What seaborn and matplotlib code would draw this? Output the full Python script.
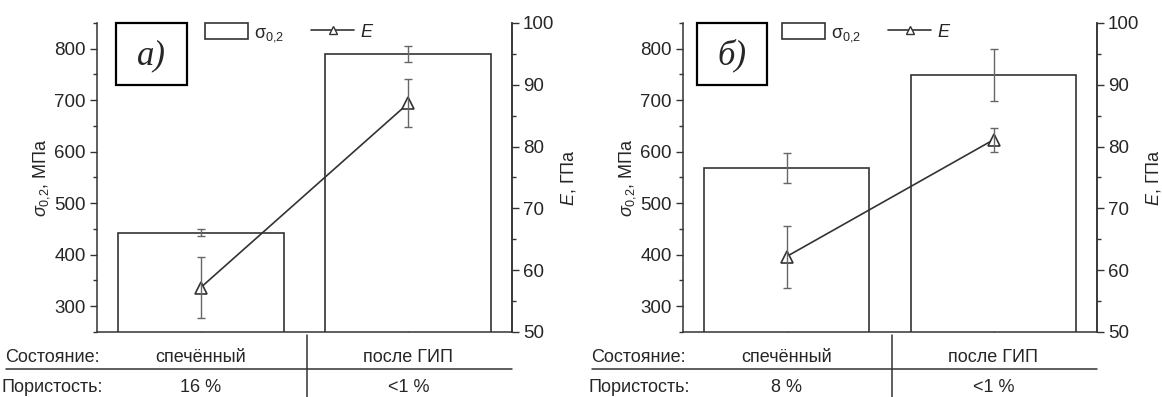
import numpy as np
import pandas as pd
import seaborn as sns
import matplotlib.pyplot as plt
from matplotlib.patches import Rectangle, Patch
from matplotlib.lines import Line2D
from matplotlib.ticker import MultipleLocator

sns.set_style('ticks')
plt.rcParams['font.family'] = ['Liberation Sans', 'DejaVu Sans']
plt.rcParams['mathtext.fontset'] = 'custom'
plt.rcParams['mathtext.rm'] = 'Liberation Sans'
plt.rcParams['mathtext.it'] = 'Liberation Sans:italic'

# данные с рисунка
states = ['спечённый', 'после ГИП']
porosity_a = ['16 %', '<1 %']
porosity_b = ['8 %', '<1 %']

sigma_a = [443, 790]
sigma_a_err = [7, 16]
E_a = [57.2, 87.0]
E_a_err = [4.9, 3.9]

sigma_b = [569, 749]
sigma_b_err = [29, 51]
E_b = [62.2, 81.1]
E_b_err = [5.0, 1.9]

panel_labels = ['a)', 'б)']

dark = '#333333'
grey = '#666666'
fs = 13

fig = plt.figure(figsize=(11.62, 3.97), dpi=100)
axes_pos = [[97/1162, 1-332/397, 415/1162, 309/397],
            [683/1162, 1-332/397, 414/1162, 309/397]]

panels = [(sigma_a, sigma_a_err, E_a, E_a_err, porosity_a, 0.265, 0.046),
          (sigma_b, sigma_b_err, E_b, E_b_err, porosity_b, 0.244, 0.034)]

for k, (sig, sig_err, E, E_err, poro, leg_x, box_x) in enumerate(panels):
    df = pd.DataFrame({'state': states, 'sigma': sig, 'E': E})
    pos = np.arange(len(df))

    ax = fig.add_axes(axes_pos[k])
    sns.barplot(data=df, x='state', y='sigma', ax=ax, color='white', saturation=1,
                edgecolor=dark, linewidth=1.2, width=0.8, errorbar=None)
    ax.errorbar(pos, df['sigma'], yerr=sig_err, fmt='none', ecolor=grey,
                elinewidth=1, capsize=3, capthick=1)
    ax.set_xlim(-0.5, 1.5)
    ax.set_ylim(250, 850)
    ax.yaxis.set_major_locator(MultipleLocator(100))
    ax.yaxis.set_minor_locator(MultipleLocator(50))
    ax.set_yticks(np.arange(300, 801, 100))
    ax.set_xlabel('')
    ax.set_ylabel(r'$\sigma_{0{,}2}$, МПа', fontsize=fs, labelpad=2)
    ax.set_xticks(pos)
    ax.set_xticklabels([])
    ax.tick_params(axis='x', direction='in', length=4, width=1, color=dark)
    ax.tick_params(axis='y', which='major', direction='out', length=5, width=1,
                   labelsize=fs + 0.5, color=dark, pad=3)
    ax.tick_params(axis='y', which='minor', direction='out', length=3, width=1, color=dark)
    for s in ['left', 'bottom', 'right']:
        ax.spines[s].set_color(dark)
        ax.spines[s].set_linewidth(1.1)
    ax.spines['top'].set_visible(False)

    ax2 = ax.twinx()
    sns.lineplot(x=pos, y=df['E'], ax=ax2, color=dark, linewidth=1.2, marker='^',
                 markersize=8, markerfacecolor='white', markeredgecolor=dark,
                 markeredgewidth=1.2)
    ax2.errorbar(pos, df['E'], yerr=E_err, fmt='none', ecolor=grey,
                 elinewidth=1, capsize=3, capthick=1)
    ax2.set_ylim(50, 100)
    ax2.set_xlim(-0.5, 1.5)
    ax2.yaxis.set_major_locator(MultipleLocator(10))
    ax2.yaxis.set_minor_locator(MultipleLocator(5))
    ax2.set_ylabel(r'$E$, ГПа', fontsize=fs, labelpad=3)
    ax2.tick_params(axis='y', which='major', direction='out', length=5, width=1,
                    labelsize=fs + 0.5, color=dark, pad=3)
    ax2.tick_params(axis='y', which='minor', direction='out', length=3, width=1, color=dark)
    for s in ['top', 'left', 'bottom']:
        ax2.spines[s].set_visible(False)
    ax2.spines['right'].set_color(dark)
    ax2.spines['right'].set_linewidth(1.1)

    # легенда
    handles = [Patch(facecolor='white', edgecolor=dark, linewidth=1.2),
               Line2D([], [], color=dark, linewidth=1.2, marker='^', markersize=6,
                      markerfacecolor='white', markeredgecolor=dark)]
    ax2.legend(handles, ['σ$_{0{,}2}$', '$E$'], loc='upper left', ncol=2,
               bbox_to_anchor=(leg_x - 0.005, 1.0), frameon=False, fontsize=fs,
               handlelength=2.4, handleheight=1.0, columnspacing=1.5,
               handletextpad=0.3, borderaxespad=0, borderpad=0)

    # метка панели
    ax2.add_patch(Rectangle((box_x, 0.80), 0.17, 0.20, transform=ax2.transAxes,
                            facecolor='white', edgecolor='black', linewidth=1.6,
                            clip_on=False, zorder=5))
    ax2.text(box_x + 0.085, 0.895, panel_labels[k], transform=ax2.transAxes,
             ha='center', va='center', fontsize=25, style='italic',
             family='Liberation Serif', zorder=6)

    # таблица под графиком
    tr = ax.get_xaxis_transform()
    row1, row2 = -0.081, -0.178
    ax.text(-0.107, row1, 'Состояние:', transform=ax.transAxes, ha='center',
            va='center', fontsize=fs)
    ax.text(-0.107, row2, 'Пористость:', transform=ax.transAxes, ha='center',
            va='center', fontsize=fs)
    for i in pos:
        ax.text(i, row1, df['state'][i], transform=tr, ha='center', va='center', fontsize=fs)
        ax.text(i, row2, poro[i], transform=tr, ha='center', va='center', fontsize=fs)
    ax.add_line(Line2D([-0.22, 1.0], [-0.120, -0.120], transform=ax.transAxes,
                       color=dark, linewidth=1.1, clip_on=False))
    ax.add_line(Line2D([0.51, 0.51], [-0.010, -0.215], transform=tr,
                       color=dark, linewidth=1.1, clip_on=False))

fig.savefig('out.png', dpi=100, facecolor='white')
